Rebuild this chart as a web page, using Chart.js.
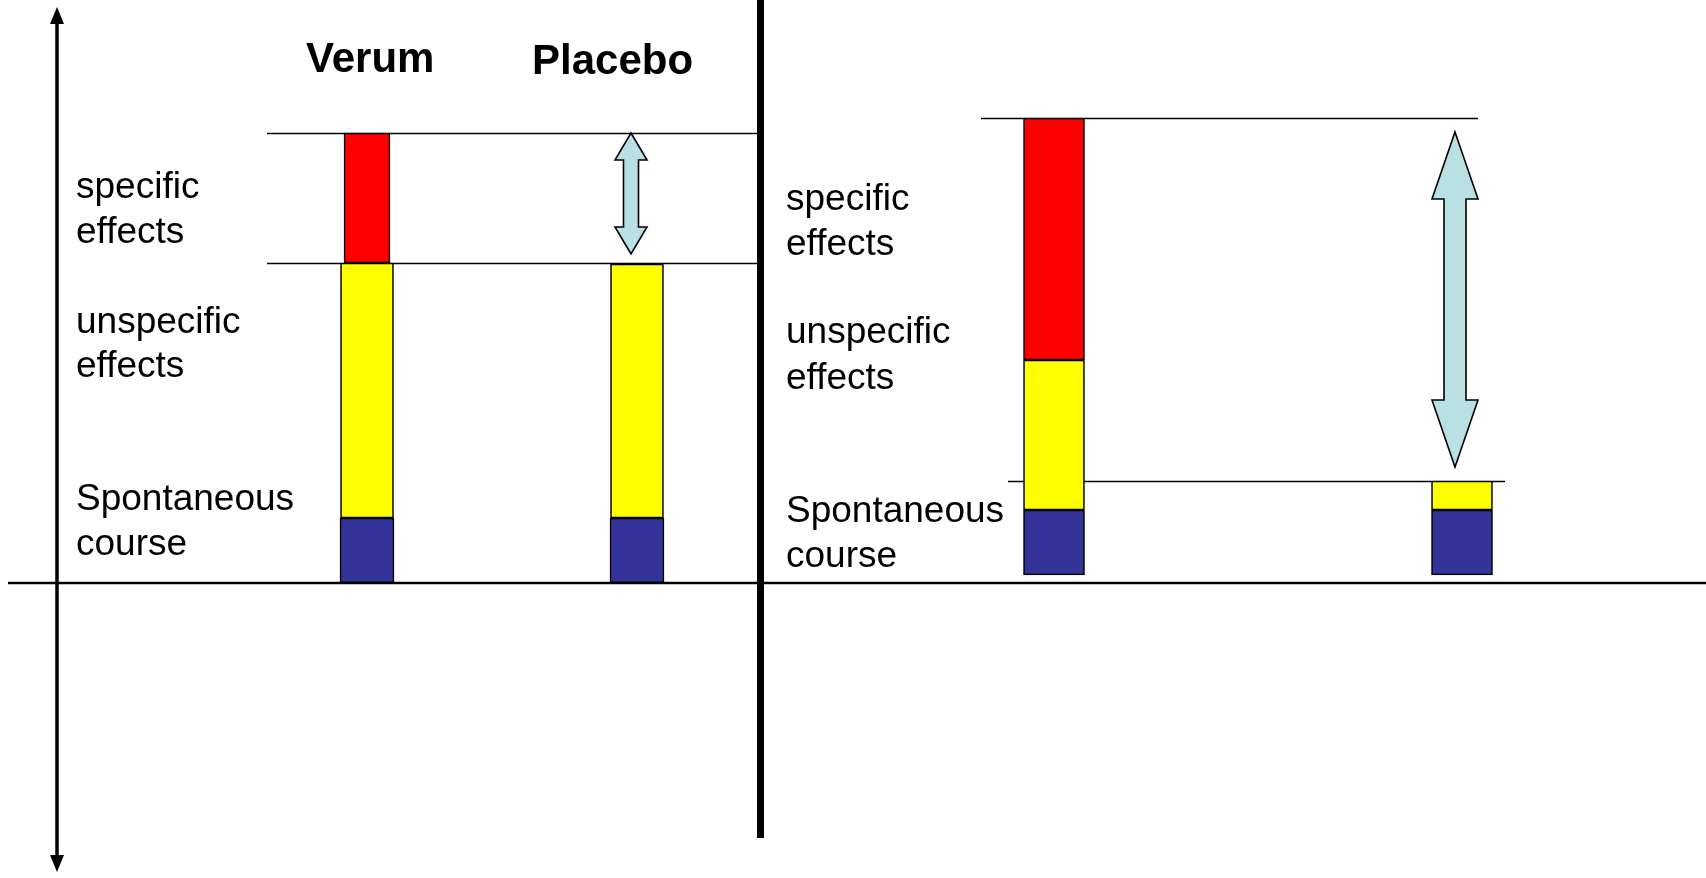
<!DOCTYPE html>
<html>
<head>
<meta charset="utf-8">
<script src="https://cdn.jsdelivr.net/npm/chart.js@4.4.0/dist/chart.umd.min.js"></script>
<style>
  html, body { margin: 0; padding: 0; background: #fff; }
  canvas { display: block; }
</style>
</head>
<body>
<canvas id="chart" width="1706" height="878"></canvas>
<script>
// left panel: placebo shares the unspecific effects, right panel: it barely has any
const groups = ['Verum', 'Placebo', 'Verum', 'Placebo'];
const panelOf = ['left', 'left', 'right', 'right'];
const spontaneous = [[0, 65], [0, 65], [8, 73], [8, 73]];
const unspecific = [[65, 320], [65, 319], [73, 223], [73, 102]];
const specific = [[320, 450], null, [223, 465], null];
const segmentNames = ['Spontaneous course', 'unspecific effects', 'specific effects'];

// layout only (x scale runs 0..1706, y scale -295..583)
const groupX = [367, 637, 1054, 1462];
const barWidth = { left: [54, 53, 46], right: [61, 61, 61] };
const colors = ['#333399', '#FFFF00', '#FF0000'];
const arrowFill = '#B9E0E3';

const segments = [spontaneous, unspecific, specific];
const datasets = [];
['left', 'right'].forEach(panel => {
    segments.forEach((seg, s) => {
        const pts = [];
        seg.forEach((v, i) => {
            if (v && panelOf[i] === panel) pts.push({ x: groupX[i], y: v });
        });
        datasets.push({
            label: segmentNames[s],
            data: pts,
            backgroundColor: colors[s],
            borderColor: '#000',
            borderWidth: 1.6,
            borderSkipped: false,
            barThickness: barWidth[panel][s],
            grouped: false,
        });
    });
});

// reference levels come from the bar tops
const refLines = [
    { level: specific[0][1], from: 267, to: 757 },
    { level: unspecific[0][1], from: 267, to: 757 },
    { level: specific[2][1], from: 981, to: 1478 },
    { level: unspecific[3][1], from: 1008, to: 1505 },
];
const arrows = [
    { x: 631, top: specific[0][1], bottom: unspecific[1][1], insetTop: 0, insetBottom: 10, headW: 32, shaftW: 15, headLen: 27 },
    { x: 1455, top: specific[2][1], bottom: unspecific[3][1], insetTop: 14, insetBottom: 14, headW: 46, shaftW: 22, headLen: 67 },
];
const labels = [
    { text: 'specific', x: 76, y: 198 }, { text: 'effects', x: 76, y: 243 },
    { text: 'unspecific', x: 76, y: 333 }, { text: 'effects', x: 76, y: 377 },
    { text: 'Spontaneous', x: 76, y: 510 }, { text: 'course', x: 76, y: 555 },
    { text: 'specific', x: 786, y: 210 }, { text: 'effects', x: 786, y: 255 },
    { text: 'unspecific', x: 786, y: 343 }, { text: 'effects', x: 786, y: 389 },
    { text: 'Spontaneous', x: 786, y: 522 }, { text: 'course', x: 786, y: 567 },
];
const titlePos = [{ x: 306, y: 72 }, { x: 532, y: 74 }];

const decor = {
    id: 'decor',
    beforeDatasetsDraw(chart) {
        const { ctx, scales: { x, y } } = chart;
        ctx.save();
        ctx.strokeStyle = '#000';
        ctx.lineWidth = 1.6;
        refLines.forEach(r => {
            const py = Math.round(y.getPixelForValue(r.level)) + 0.5;
            ctx.beginPath();
            ctx.moveTo(x.getPixelForValue(r.from), py);
            ctx.lineTo(x.getPixelForValue(r.to), py);
            ctx.stroke();
        });
        ctx.restore();
    },
    afterDatasetsDraw(chart) {
        const { ctx, scales: { x, y } } = chart;
        ctx.save();

        // baseline
        const y0 = y.getPixelForValue(0);
        ctx.strokeStyle = '#000';
        ctx.lineWidth = 2.5;
        ctx.beginPath();
        ctx.moveTo(8, y0);
        ctx.lineTo(1706, y0);
        ctx.stroke();

        // double headed vertical axis
        const ax = 57;
        ctx.lineWidth = 3.5;
        ctx.beginPath();
        ctx.moveTo(ax, 20);
        ctx.lineTo(ax, 860);
        ctx.stroke();
        ctx.fillStyle = '#000';
        ctx.beginPath();
        ctx.moveTo(ax, 7); ctx.lineTo(ax + 7, 24); ctx.lineTo(ax - 7, 24); ctx.closePath();
        ctx.fill();
        ctx.beginPath();
        ctx.moveTo(ax, 872); ctx.lineTo(ax + 7, 855); ctx.lineTo(ax - 7, 855); ctx.closePath();
        ctx.fill();

        // panel divider
        ctx.fillRect(757, 0, 7, 838);

        // arrows
        arrows.forEach(a => {
            const cx = x.getPixelForValue(a.x);
            const t = y.getPixelForValue(a.top) + a.insetTop;
            const b = y.getPixelForValue(a.bottom) - a.insetBottom;
            const hw = a.headW / 2, sw = a.shaftW / 2, hl = a.headLen;
            ctx.beginPath();
            ctx.moveTo(cx, t);
            ctx.lineTo(cx + hw, t + hl);
            ctx.lineTo(cx + sw, t + hl);
            ctx.lineTo(cx + sw, b - hl);
            ctx.lineTo(cx + hw, b - hl);
            ctx.lineTo(cx, b);
            ctx.lineTo(cx - hw, b - hl);
            ctx.lineTo(cx - sw, b - hl);
            ctx.lineTo(cx - sw, t + hl);
            ctx.lineTo(cx - hw, t + hl);
            ctx.closePath();
            ctx.fillStyle = arrowFill;
            ctx.fill();
            ctx.lineWidth = 1.6;
            ctx.strokeStyle = '#000';
            ctx.stroke();
        });

        // text
        ctx.fillStyle = '#000';
        ctx.textBaseline = 'alphabetic';
        ctx.textAlign = 'left';
        ctx.font = 'bold 42px "Liberation Sans", Arial, sans-serif';
        titlePos.forEach((p, i) => ctx.fillText(groups[i], p.x, p.y));
        ctx.font = '37px "Liberation Sans", Arial, sans-serif';
        labels.forEach(l => ctx.fillText(l.text, l.x, l.y));

        ctx.restore();
    }
};

new Chart(document.getElementById('chart'), {
    type: 'bar',
    data: { datasets },
    options: {
        responsive: false,
        animation: false,
        devicePixelRatio: 1,
        layout: { padding: 0 },
        plugins: { legend: { display: false }, tooltip: { enabled: false } },
        scales: {
            x: { type: 'linear', min: 0, max: 1706, offset: false, display: false },
            y: { type: 'linear', min: -295, max: 583, display: false },
        },
    },
    plugins: [decor],
});
</script>
</body>
</html>
